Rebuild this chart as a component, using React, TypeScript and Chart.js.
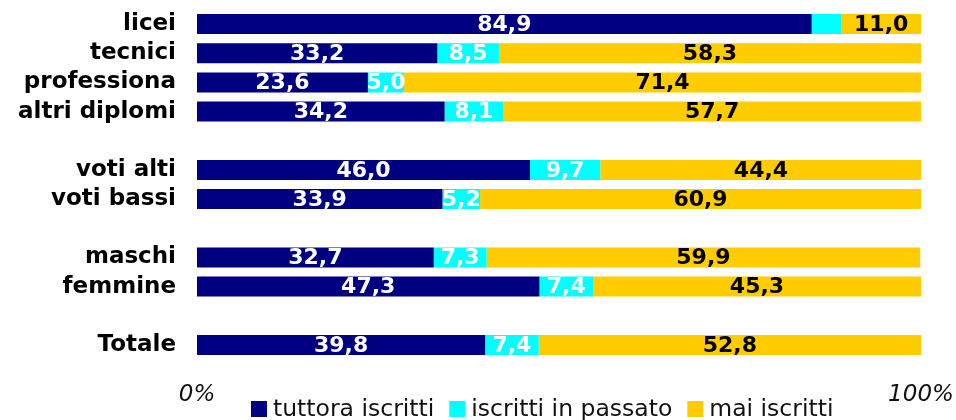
import React, { useEffect, useRef } from "react";
import { Chart, registerables } from "chart.js";

Chart.register(...registerables);

const categories = [
  "licei",
  "tecnici",
  "professiona",
  "altri diplomi",
  "",
  "voti alti",
  "voti bassi",
  "",
  "maschi",
  "femmine",
  "",
  "Totale",
];
const tuttoraIscritti = [84.9, 33.2, 23.6, 34.2, null, 46.0, 33.9, null, 32.7, 47.3, null, 39.8];
const iscrittiPassato = [4.1, 8.5, 5.0, 8.1, null, 9.7, 5.2, null, 7.3, 7.4, null, 7.4];
const maiIscritti = [11.0, 58.3, 71.4, 57.7, null, 44.4, 60.9, null, 59.9, 45.3, null, 52.8];
const seriesNames = ["tuttora iscritti", "iscritti in passato", "mai iscritti"];
const seriesColors = ["#000080", "#00FFFF", "#FFCC00"];
const labelColors = ["#FFFFFF", "#FFFFFF", "#000000"];
const xTicks = [0, 100];

const FONT = "'DejaVu Sans', Verdana, sans-serif";

const valueLabels = {
  id: "valueLabels",
  afterDatasetsDraw(chart: any) {
    const ctx = chart.ctx;
    ctx.save();
    ctx.font = `bold 22px ${FONT}`;
    ctx.textAlign = "center";
    ctx.textBaseline = "middle";
    chart.data.datasets.forEach((ds: any, di: number) => {
      const meta = chart.getDatasetMeta(di);
      meta.data.forEach((el: any, i: number) => {
        const v = ds.data[i];
        if (v == null || v < 5) return;
        const x = (el.x + el.base) / 2;
        ctx.fillStyle = labelColors[di];
        ctx.fillText(v.toFixed(1).replace(".", ","), x, el.y + 1);
      });
    });
    ctx.restore();
  },
};

const customLegend = {
  id: "customLegend",
  afterDraw(chart: any) {
    const ctx = chart.ctx;
    ctx.save();
    ctx.font = `23.5px ${FONT}`;
    ctx.textAlign = "left";
    ctx.textBaseline = "alphabetic";
    let x = 251;
    const boxTop = 401;
    const box = 16;
    chart.data.datasets.forEach((ds: any) => {
      ctx.fillStyle = ds.backgroundColor;
      ctx.fillRect(x, boxTop, box, box);
      x += box + 6;
      ctx.fillStyle = "#111111";
      ctx.fillText(ds.label, x, 416);
      x += ctx.measureText(ds.label).width + 15;
    });
    ctx.restore();
  },
};

const zeroPad = (scale: any) => {
  scale.paddingLeft = 0;
  scale.paddingRight = 0;
  scale.paddingTop = 0;
  scale.paddingBottom = 0;
};

export default function App() {
  const ref = useRef<HTMLCanvasElement | null>(null);

  useEffect(() => {
    if (!ref.current) return;
    const datasets = [tuttoraIscritti, iscrittiPassato, maiIscritti].map((data, i) => ({
      label: seriesNames[i],
      data,
      backgroundColor: seriesColors[i],
      borderWidth: 0,
      categoryPercentage: 1,
      barPercentage: 0.685,
    }));
    const chart = new Chart(ref.current, {
      type: "bar",
      data: { labels: categories, datasets },
      options: {
        indexAxis: "y",
        animation: false,
        responsive: false,
        devicePixelRatio: 1,
        layout: { padding: { top: 9.5, right: 35, bottom: 0, left: 0 } },
        plugins: {
          legend: { display: false },
          tooltip: { enabled: false },
        },
        scales: {
          x: {
            stacked: true,
            min: 0,
            max: 100,
            grid: { display: false, drawTicks: false },
            border: { display: false },
            afterBuildTicks: (scale: any) => {
              scale.ticks = xTicks.map((v) => ({ value: v }));
            },
            afterFit: (scale: any) => {
              scale.height = 60.5;
              zeroPad(scale);
            },
            ticks: {
              padding: 22,
              color: "#111111",
              font: { family: FONT, size: 23, style: "italic" },
              callback: (v: any) => `${v}%`,
              maxRotation: 0,
              autoSkip: false,
            },
          },
          y: {
            stacked: true,
            grid: { display: false, drawTicks: false },
            border: { display: false },
            afterFit: (scale: any) => {
              scale.width = 197;
              zeroPad(scale);
            },
            ticks: {
              padding: 21,
              autoSkip: false,
              color: "#000000",
              font: { family: FONT, size: 23, weight: "bold" },
            },
          },
        },
      },
      plugins: [valueLabels, customLegend],
    });
    return () => chart.destroy();
  }, []);

  return (
    <div style={{ position: "absolute", left: 0, top: 0, width: 956, height: 420, background: "#fff" }}>
      <canvas ref={ref} width={956} height={420} style={{ width: 956, height: 420, display: "block" }} />
    </div>
  );
}
